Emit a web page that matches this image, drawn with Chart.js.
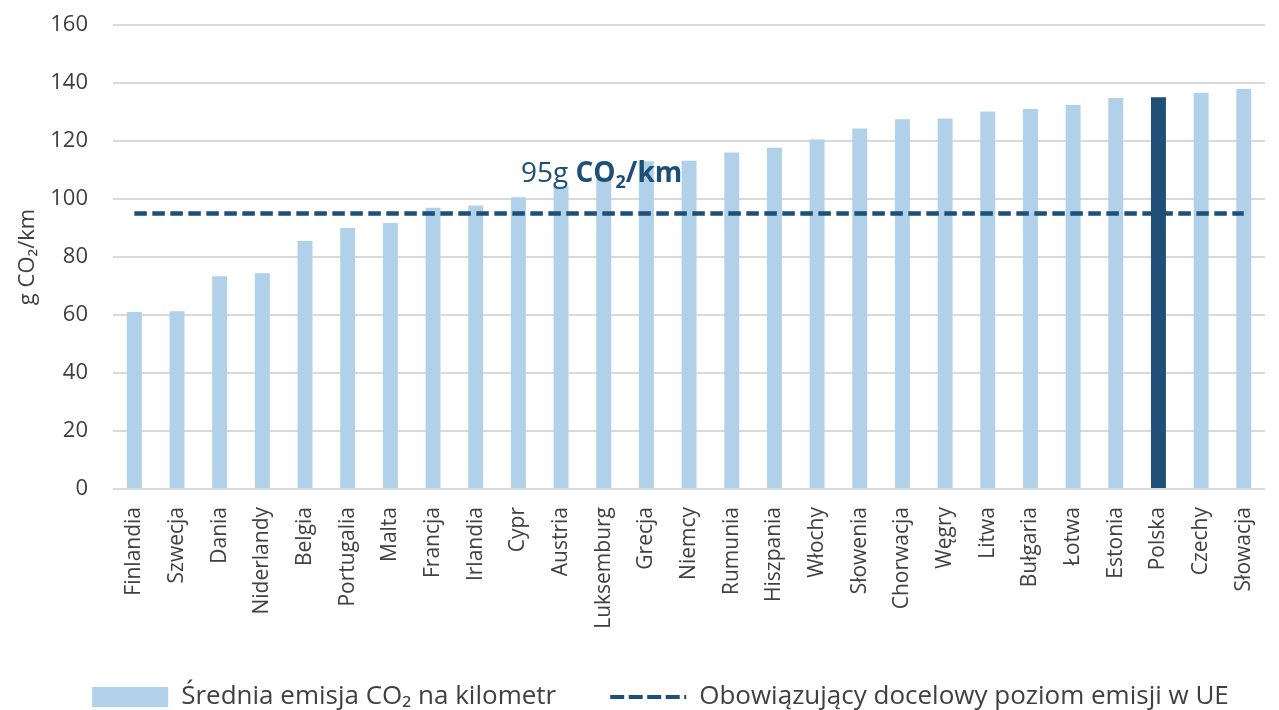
<!DOCTYPE html>
<html lang="pl">
<head>
<meta charset="utf-8">
<title>Emisja CO2</title>
<script src="https://cdn.jsdelivr.net/npm/chart.js@4.4.1/dist/chart.umd.min.js"></script>
<style>
  html, body { margin: 0; padding: 0; background: #fff; overflow: hidden; }
  #wrap { position: relative; width: 1287px; height: 720px; }
</style>
</head>
<body>
<div id="wrap"><canvas id="co2"></canvas></div>
<script>
var countries = ['Finlandia', 'Szwecja', 'Dania', 'Niderlandy', 'Belgia', 'Portugalia', 'Malta',
  'Francja', 'Irlandia', 'Cypr', 'Austria', 'Luksemburg', 'Grecja', 'Niemcy', 'Rumunia',
  'Hiszpania', 'Włochy', 'Słowenia', 'Chorwacja', 'Węgry', 'Litwa', 'Bułgaria', 'Łotwa',
  'Estonia', 'Polska', 'Czechy', 'Słowacja'];
var emissions = [61.0, 61.3, 73.4, 74.4, 85.5, 90.0, 91.7,
  97.0, 97.8, 100.6, 104.4, 107.4, 113.0, 113.2, 116.0,
  117.7, 120.5, 124.3, 127.5, 127.8, 130.2, 131.0, 132.4,
  134.8, 135.1, 136.6, 137.9];
var euTarget = 95;
var targetLine = [
  { x: countries[0], y: euTarget },
  { x: countries[countries.length - 1], y: euTarget },
];
var yMin = 0, yMax = 160, yStep = 20;
var highlight = 'Polska';

var COLORS = {
  LIGHT: '#B0D1E9',
  DARK: '#1D4F77',
  GRID: '#D9D9D9',
  TEXT: '#404040',
};
var FONT = "'Open Sans', 'DejaVu Sans', sans-serif";

// "95g CO2/km" note over the target line, mixed weights with a subscript
var targetNote = {
  at: 10.95,     // category position of the text centre
  value: 106,    // baseline, in axis units
  plain: '95g ',
  bold: 'CO',
  sub: '2',
  tail: '/km',
};

var notePlugin = {
  id: 'targetNote',
  afterDatasetsDraw: function (chart) {
    var ctx = chart.ctx;
    var x = chart.scales.x.getPixelForValue(targetNote.at);
    var y = chart.scales.y.getPixelForValue(targetNote.value);
    var big = '28px ' + FONT, bigB = 'bold 28px ' + FONT, small = 'bold 18px ' + FONT;
    ctx.save();
    ctx.fillStyle = COLORS.DARK;
    ctx.textBaseline = 'alphabetic';
    ctx.textAlign = 'left';
    ctx.font = big; var w1 = ctx.measureText(targetNote.plain).width;
    ctx.font = bigB; var w2 = ctx.measureText(targetNote.bold).width;
    ctx.font = small; var w3 = ctx.measureText(targetNote.sub).width;
    ctx.font = bigB; var w4 = ctx.measureText(targetNote.tail).width;
    var cx = x - (w1 + w2 + w3 + w4) / 2;
    ctx.font = big; ctx.fillText(targetNote.plain, cx, y); cx += w1;
    ctx.font = bigB; ctx.fillText(targetNote.bold, cx, y); cx += w2;
    ctx.font = small; ctx.fillText(targetNote.sub, cx, y + 6); cx += w3;
    ctx.font = bigB; ctx.fillText(targetNote.tail, cx, y);
    ctx.restore();
  },
};

// nudge the legend row to the right, the library always centres it
var legendShift = {
  id: 'legendShift',
  afterLayout: function (chart) {
    chart.legend.left += 17;
    chart.legend.right += 17;
  },
};

var ctx = document.getElementById('co2');
new Chart(ctx, {
  type: 'bar',
  data: {
    labels: countries,
    datasets: [
      {
        label: 'Średnia emisja CO₂ na kilometr',
        data: emissions,
        backgroundColor: countries.map(function (c) { return c === highlight ? COLORS.DARK : COLORS.LIGHT; }),
        borderWidth: 0,
        barPercentage: 0.35,
        categoryPercentage: 1,
        order: 1,
      },
      {
        type: 'line',
        label: 'Obowiązujący docelowy poziom emisji w UE',
        data: targetLine,
        borderColor: COLORS.DARK,
        backgroundColor: COLORS.DARK,
        borderWidth: 4.5,
        borderDash: [12.5, 5.5],
        pointRadius: 0,
        fill: false,
        order: 0,
      },
    ],
  },
  options: {
    responsive: true,
    maintainAspectRatio: false,
    animation: false,
    layout: { padding: { top: 25, left: 0, right: 0, bottom: 0 } },
    scales: {
      x: {
        grid: { display: false, drawTicks: false },
        border: { display: false },
        ticks: {
          color: COLORS.TEXT,
          font: { size: 21, family: FONT },
          minRotation: 90,
          maxRotation: 90,
          padding: 18,
          autoSkip: false,
        },
        afterFit: function (s) { s.height = 141; },
      },
      y: {
        min: yMin,
        max: yMax,
        // invisible tick marks keep the labels away from the plot
        grid: { color: COLORS.GRID, lineWidth: 2, drawTicks: true, tickLength: 25, tickColor: 'rgba(0,0,0,0)' },
        border: { display: false },
        ticks: {
          stepSize: yStep,
          color: COLORS.TEXT,
          font: { size: 22, family: FONT },
          padding: 0,
        },
        title: {
          display: true,
          text: 'g CO₂/km',
          color: COLORS.TEXT,
          font: { size: 22, family: FONT },
          padding: { top: 15, bottom: 0 },
        },
        afterFit: function (s) { s.width = 113; },
      },
    },
    plugins: {
      tooltip: { enabled: false },
      legend: {
        position: 'bottom',
        labels: {
          color: COLORS.TEXT,
          font: { size: 26, family: FONT },
          usePointStyle: true,
          pointStyleWidth: 76,
          boxHeight: 20,
          padding: 54,
          generateLabels: function (chart) {
            var items = Chart.defaults.plugins.legend.labels.generateLabels(chart);
            items.sort(function (a, b) { return a.datasetIndex - b.datasetIndex; });
            items.forEach(function (it) {
              if (it.datasetIndex === 0) {
                it.pointStyle = 'rect';
                it.fillStyle = COLORS.LIGHT;
                it.lineWidth = 0;
              } else {
                it.pointStyle = 'line';
                it.lineDash = [14, 4.5];
                it.lineWidth = 4;
              }
            });
            return items;
          },
        },
      },
    },
  },
  plugins: [notePlugin, legendShift],
});
</script>
</body>
</html>
